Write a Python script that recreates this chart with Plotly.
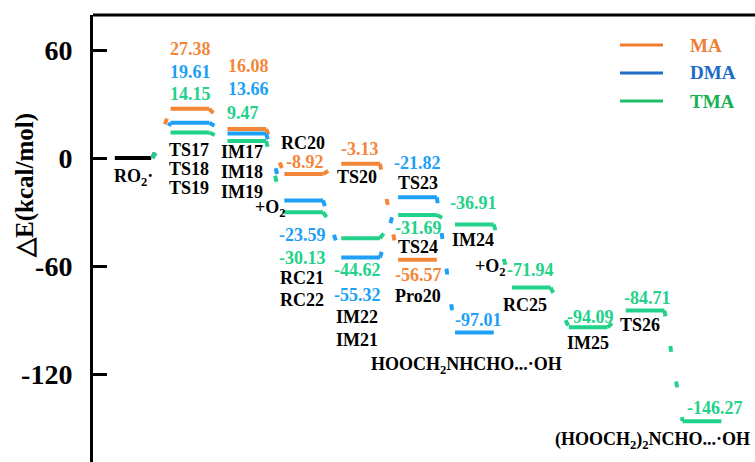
import plotly.graph_objects as go

# ---------------- data ----------------
series_names = ["MA", "DMA", "TMA"]
ma_vals = [0, 27.38, 16.08, -8.92, -3.13, -56.57]
dma_vals = [0, 19.61, 13.66, -23.59, -55.32, -21.82, -97.01]
tma_vals = [0, 14.15, 9.47, -30.13, -44.62, -31.69, -36.91, -71.94, -94.09, -84.71, -146.27]
start_label = "RO<sub>2</sub>·"
ma_names = ["TS17", "IM17", "RC20", "TS20", "Pro20"]
dma_names = ["TS18", "IM18", "RC21", "IM21", "TS23", "HOOCH<sub>2</sub>NHCHO...·OH"]
tma_names = ["TS19", "IM19", "RC22", "IM22", "TS24", "IM24", "RC25", "IM25", "TS26",
             "(HOOCH<sub>2</sub>)<sub>2</sub>NCHO...·OH"]
extra_labels = ["+O<sub>2</sub>", "+O<sub>2</sub>"]
y_ticks = [60, 0, -60, -120]
y_title = "△E(kcal/mol)"

# ---------------- style ----------------
FONT = "Liberation Serif"
bar_colors = {"MA": "#F2873A", "DMA": "#1DA0F5", "TMA": "#22D18A"}
legend_line_colors = {"MA": "#ED7D31", "DMA": "#1F6EC4", "TMA": "#1FC06C"}
legend_text_colors = {"MA": "#EE7E33", "DMA": "#1B6CC6", "TMA": "#17B055"}
H = 0.34  # half-width of level bars (stage units)

# pixel -> data helpers for text placement
X0, SX, Y0, SY = 133.0, 56.9, 158.0, 1.8
def px2x(px): return (px - X0) / SX
def py2y(py): return (Y0 - py) / SY

fig = go.Figure()

def add_levels(vals, color):
    xs, ys = [], []
    for i, v in enumerate(vals):
        if i == 0:
            continue
        xs += [i - H, i + H, None]
        ys += [v, v, None]
    fig.add_trace(go.Scatter(x=xs, y=ys, mode="lines",
                             line=dict(color=color, width=4),
                             hoverinfo="skip", showlegend=False))

def add_connectors(vals, color):
    for i in range(len(vals) - 1):
        fig.add_trace(go.Scatter(x=[i + H, i + 1 - H], y=[vals[i], vals[i + 1]],
                                 mode="lines",
                                 line=dict(color=color, width=4, dash="6px,30px"),
                                 hoverinfo="skip", showlegend=False))

# start level (black)
fig.add_trace(go.Scatter(x=[-0.32, 0.32], y=[ma_vals[0], ma_vals[0]], mode="lines",
                         line=dict(color="black", width=4), hoverinfo="skip",
                         showlegend=False))

for name, vals in zip(series_names, [ma_vals, dma_vals, tma_vals]):
    add_levels(vals, bar_colors[name])
for name, vals in zip(series_names, [ma_vals, dma_vals, tma_vals]):
    add_connectors(vals, bar_colors[name])

annotations = []

def txt(text, px, py, color="black", size=18, xanchor="center"):
    annotations.append(dict(text=text, x=px2x(px), y=py2y(py), xref="x", yref="y",
                            showarrow=False, xanchor=xanchor, yanchor="middle",
                            font=dict(family=FONT, size=size, color=color, weight="bold")))

# value labels (pixel placement)
ma_val_pos = [(190, 49), (248, 66), (305, 162), (360, 149), (418, 275)]
dma_val_pos = [(190, 72), (248, 89), (302, 235), (357, 295), (417, 163), (478, 320)]
tma_val_pos = [(190, 94), (243, 113), (302, 258), (357, 270), (418, 228), (473, 203),
               (530, 270), (590, 317), (647, 298), (715, 408)]
for name, vals, pos in zip(series_names, [ma_vals, dma_vals, tma_vals],
                           [ma_val_pos, dma_val_pos, tma_val_pos]):
    for v, (px, py) in zip(vals[1:], pos):
        txt(f"{v:.2f}", px, py, color=bar_colors[name])

# name labels
ma_name_pos = [(189, 150), (242, 152), (303, 143), (357, 177), (418, 296)]
dma_name_pos = [(189, 169), (242, 172), (302, 278), (357, 340), (418, 183), (466, 365)]
tma_name_pos = [(189, 188), (242, 192), (302, 300), (357, 317), (418, 247), (473, 240),
                (525, 305), (588, 343), (640, 325), (652, 440)]
for names, pos in zip([ma_names, dma_names, tma_names],
                      [ma_name_pos, dma_name_pos, tma_name_pos]):
    for n, (px, py) in zip(names, pos):
        txt(n, px, py)
txt(start_label, 133, 177)
for t, (px, py) in zip(extra_labels, [(270, 208), (490, 267)]):
    txt(t, px, py)

# y-axis title
annotations.append(dict(text=y_title, xref="paper", yref="paper",
                        x=(25 - 93) / 662, y=(462 - 186) / 447, xanchor="center",
                        yanchor="middle", textangle=-90, showarrow=False,
                        font=dict(family=FONT, size=25, color="black", weight="bold")))

# legend (manual)
shapes = []
for k, name in enumerate(series_names):
    py = 45 + 28 * k
    shapes.append(dict(type="line", xref="paper", yref="paper",
                       x0=(620 - 93) / 662, x1=(663 - 93) / 662,
                       y0=(462 - py) / 447, y1=(462 - py) / 447,
                       line=dict(color=legend_line_colors[name], width=3)))
    annotations.append(dict(text=name, xref="paper", yref="paper",
                            x=(688 - 93) / 662, y=(462 - py) / 447,
                            xanchor="left", yanchor="middle", showarrow=False,
                            font=dict(family=FONT, size=19, color=legend_text_colors[name],
                                      weight="bold")))
# top frame line
shapes.append(dict(type="line", xref="paper", yref="paper", x0=0, x1=1, y0=1, y1=1,
                   line=dict(color="black", width=3)))

fig.update_layout(
    width=755, height=462,
    margin=dict(l=93, r=0, t=15, b=0),
    paper_bgcolor="white", plot_bgcolor="white",
    font=dict(family=FONT),
    xaxis=dict(visible=False, range=[px2x(93), px2x(755)], fixedrange=True),
    yaxis=dict(range=[py2y(462), py2y(15)], tickvals=y_ticks,
               ticktext=[str(t) for t in y_ticks], fixedrange=True,
               showline=True, linewidth=3, linecolor="black",
               ticks="inside", ticklen=14, tickwidth=3, tickcolor="black",
               showgrid=False, zeroline=False, ticklabelstandoff=12,
               tickfont=dict(family=FONT, size=28, color="black", weight="bold")),
    annotations=annotations, shapes=shapes, showlegend=False,
)

fig.write_html("out.html", config={"displayModeBar": False},
               post_script="document.body.style.margin='0px';document.body.style.overflow='hidden';")
